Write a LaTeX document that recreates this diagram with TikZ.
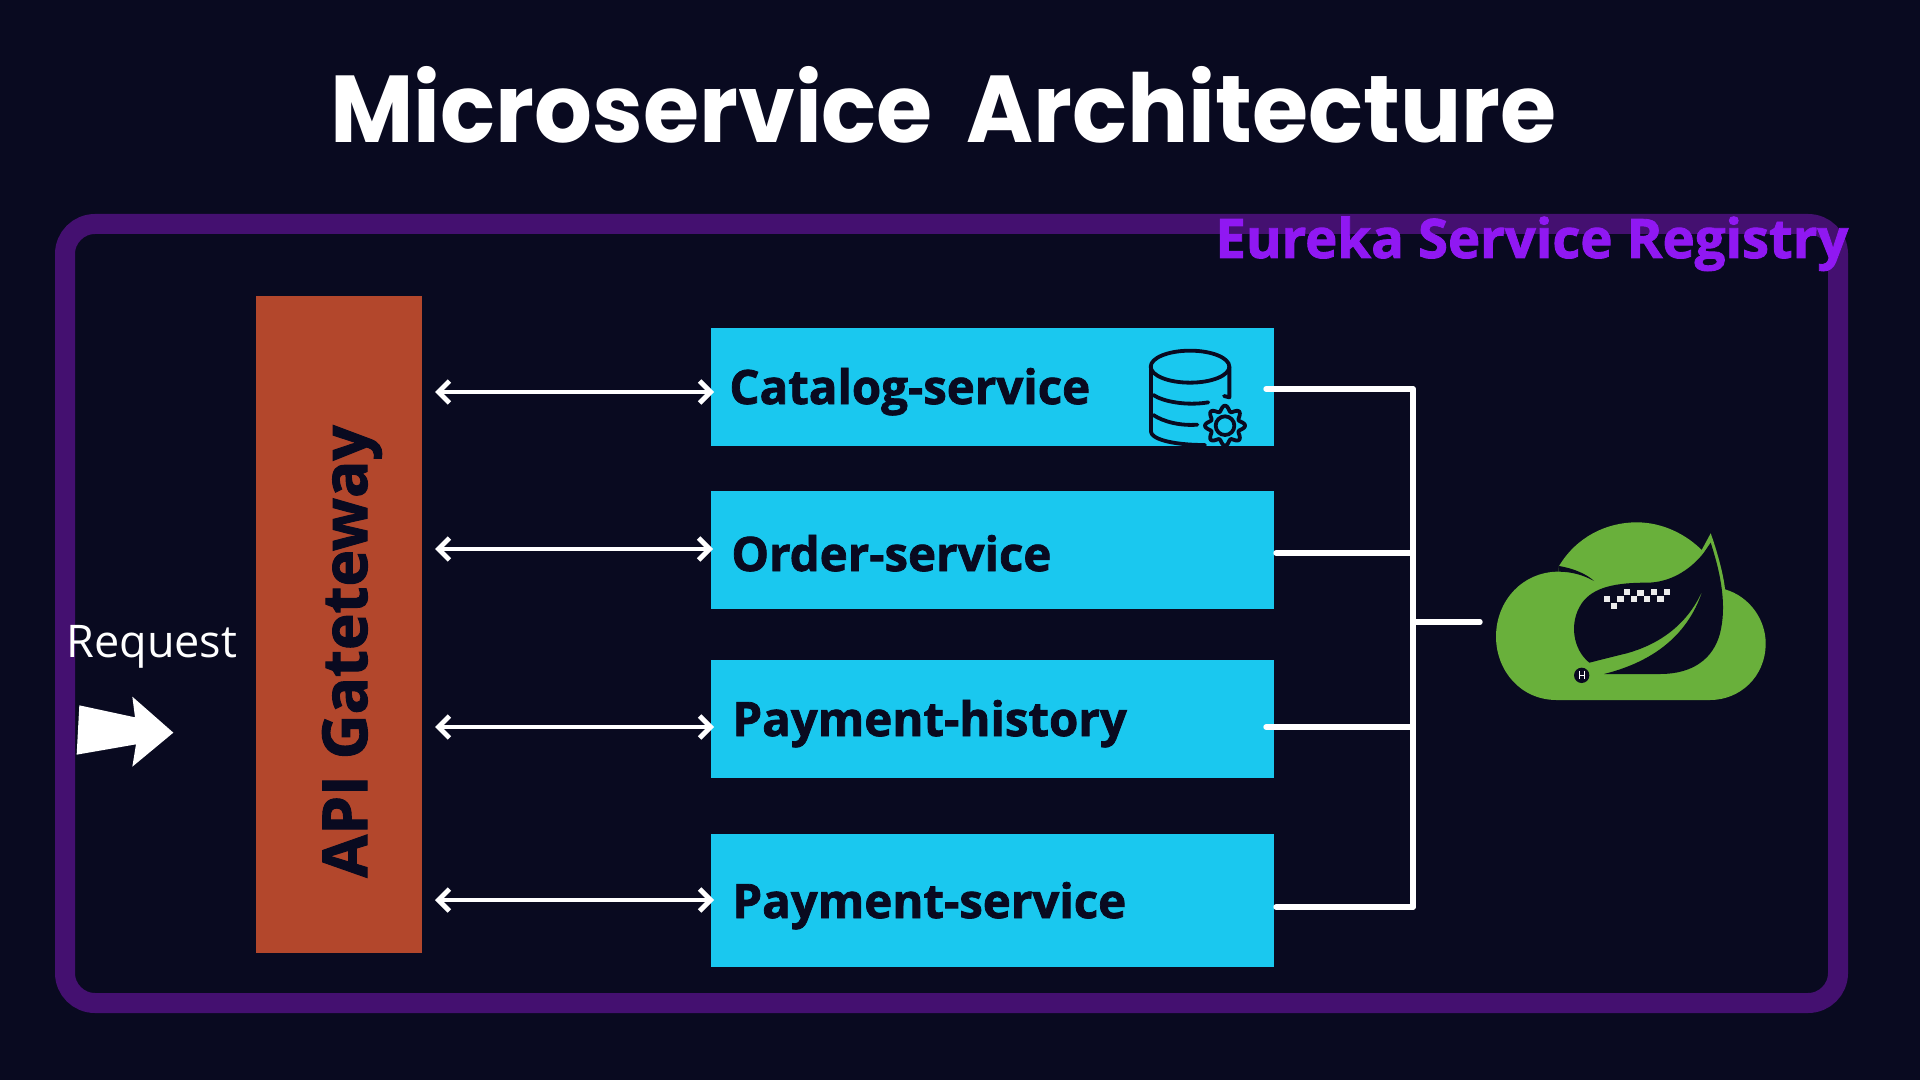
\documentclass[tikz,border=0pt]{standalone}
\usepackage{fontspec}
\usetikzlibrary{arrows.meta}
\setmainfont{Open Sans}
\newfontfamily\xbold[FakeBold=1.6]{Open Sans Bold}
\newfontfamily\titlef{Poppins}
\definecolor{bgc}{HTML}{090A20}
\definecolor{framec}{HTML}{441070}
\definecolor{eurekac}{HTML}{9018F2}
\definecolor{boxc}{HTML}{1AC8EF}
\definecolor{gwc}{HTML}{B3472C}
\definecolor{leafc}{HTML}{69B03B}
\tikzset{
  x=0.5pt,y=-0.5pt,
  svcbox/.style={fill=boxc,draw=none,inner sep=0pt,minimum width=281.5pt,anchor=north west},
  svctext/.style={font=\xbold\fontsize{23.7}{27}\selectfont,text=bgc,anchor=base west,inner sep=0pt},
  twoway/.style={draw=white,line width=2.4pt,{Straight Barb[length=5.5pt,width=11pt,line width=2.4pt]}-{Straight Barb[length=5.5pt,width=11pt,line width=2.4pt]}},
  bus/.style={draw=white,line width=2.7pt,line cap=round},
  icon/.style={draw=bgc,line width=1.9pt,line cap=round,line join=round},
}
\begin{document}
\begin{tikzpicture}
\useasboundingbox (0,0) rectangle (1920,1080);
\fill[bgc] (0,0) rectangle (1920,1080);
% frame
\draw[framec,line width=10pt,rounded corners=15pt] (65,224) rectangle (1838,1003);
% title
\node[font=\titlef\bfseries\fontsize{47.5}{56}\selectfont,text=white,anchor=base west,inner sep=0pt] (title) at (330,143) {\scalebox{0.957}[1]{Microservice\hspace{0.16em} Architecture}};
\node[font=\xbold\fontsize{27.2}{31}\selectfont,text=eurekac,anchor=base west,inner sep=0pt] (eureka) at (1215,258) {Eureka Service Registry};
% gateway
\node[fill=gwc,inner sep=0pt,minimum width=83pt,minimum height=328.5pt,anchor=north west] (gw) at (256,296) {};
\node[font=\xbold\fontsize{31}{35}\selectfont,text=bgc,rotate=90,anchor=base west,inner sep=0pt] (gwt) at (367,878) {API Gateteway};
% boxes
\node[svcbox,minimum height=59pt] (cat) at (711,328) {};
\node[svcbox,minimum height=59pt] (ord) at (711,491) {};
\node[svcbox,minimum height=59pt] (his) at (711,660) {};
\node[svcbox,minimum height=66.5pt] (pay) at (711,834) {};
\node[svctext] (catt) at (729,404) {Catalog-service};
\node[svctext] (ordt) at (731,571) {Order-service};
\node[svctext] (hist) at (732,736) {Payment-history};
\node[svctext] (payt) at (732,918) {Payment-service};
% two-way arrows
\coordinate (a1) at (435,392); \coordinate (b1) at ([xshift=1.5pt]cat.west |- a1);
\coordinate (a2) at (435,549); \coordinate (b2) at ([xshift=1pt]ord.west |- a2);
\coordinate (a3) at (435,727); \coordinate (b3) at ([xshift=1.5pt]his.west |- a3);
\coordinate (a4) at (435,900); \coordinate (b4) at ([xshift=1.5pt]pay.west |- a4);
\draw[twoway] (a1) -- (b1);
\draw[twoway] (a2) -- (b2);
\draw[twoway] (a3) -- (b3);
\draw[twoway] (a4) -- (b4);
% bus
\coordinate (s1) at (1266,389); \coordinate (t1) at (1413,389);
\coordinate (s2) at (1276,553); \coordinate (t2) at (1413,553);
\coordinate (s3) at (1266,727); \coordinate (t3) at (1413,727);
\coordinate (s4) at (1276,907); \coordinate (t4) at (1413,907);
\coordinate (s5) at (1414,622); \coordinate (t5) at (1480,622);
\draw[bus] (s1) -- (t1);
\draw[bus] (s2) -- (t2);
\draw[bus] (s3) -- (t3);
\draw[bus] (s4) -- (t4);
\draw[bus] (t1) -- (t4);
\draw[bus] (s5) -- (t5);
% request
\node[font=\fontsize{22.5}{26}\selectfont,text=white,anchor=base west,inner sep=0pt] (req) at (66,657) {Request};
\begin{scope}[shift={(40,600)},x=0.1666667pt,y=-0.1666667pt]
\fill[white] (118,316)--(285,352)--(277,290)--(400,398)--(277,500)--(288,433)--(110,464)--cycle;
\end{scope}
% database icon
\begin{scope}[shift={(1120,320)},x=0.1666667pt,y=-0.1666667pt]
\draw[icon] (210,140) ellipse [x radius=118,y radius=48];
\draw[icon] (93,140) -- (93,335) .. controls (93,355) and (150,375) .. (255,375);
\draw[icon] (100,225) .. controls (130,245) and (200,258) .. (265,247);
\draw[icon] (100,285) .. controls (130,305) and (180,318) .. (232,314);
\draw[icon] (328,140) -- (328,232) -- (312,228);
\draw[icon] plot[domain=0:360,samples=129,smooth] ({315+(52+8*cos(8*\x))*cos(\x)},{317+(52+8*cos(8*\x))*sin(\x)}) -- cycle;
\draw[icon] (315,317) circle [radius=28];
\end{scope}
% cloud with leaf
\begin{scope}[shift={(1460,500)},x=0.1666667pt,y=-0.1666667pt]
\fill[leafc] (290,600) .. controls (180,600) and (108,510) .. (108,410)
  .. controls (108,300) and (190,215) .. (295,215)
  -- (297,198) .. controls (350,110) and (440,67) .. (530,67)
  .. controls (610,67) and (680,105) .. (725,150)
  -- (752,100) .. controls (770,150) and (790,220) .. (795,268)
  .. controls (870,290) and (917,360) .. (917,430)
  .. controls (917,530) and (840,600) .. (750,600) -- cycle;
\fill[bgc] (297,198) .. controls (340,205) and (380,222) .. (402,243)
  .. controls (370,225) and (335,215) .. (295,215) -- cycle;
\fill[bgc] (752,128) .. controls (785,230) and (800,320) .. (780,400)
  .. controls (760,475) and (700,522) .. (600,522) -- (432,522)
  .. controls (560,490) and (680,420) .. (728,270)
  .. controls (680,380) and (590,435) .. (500,460)
  .. controls (450,472) and (420,480) .. (388,488)
  .. controls (340,450) and (325,370) .. (365,310)
  .. controls (400,260) and (470,248) .. (560,248)
  .. controls (630,248) and (690,210) .. (730,160) -- cycle;
\foreach \p/\q in {432/288,472/288,452/308,492/268,512/288,532/270,552/288,572/268,592/288,612/268}
  \fill[white!92!black] (\p,\q) rectangle ++(19,18);
\fill[bgc] (365,526) circle [radius=23];
\draw[white,line width=0.5pt] (357,512)--(357,537) (357,526)--(373,526) (373,512)--(373,537);
\end{scope}
\end{tikzpicture}
\end{document}
